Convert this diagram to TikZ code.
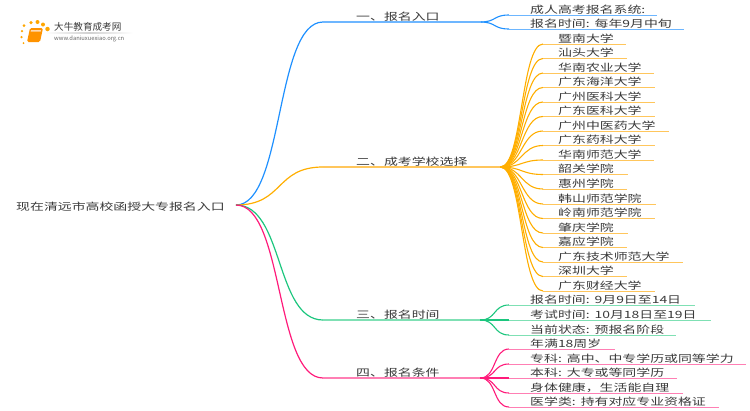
\documentclass[tikz,border=0pt]{standalone}
\usepackage{fontspec}
\setmainfont[FakeStretch=1.39]{Noto Sans CJK SC}
\newfontfamily\logofont{Noto Sans CJK SC}
\definecolor{txtgray}{HTML}{3A3A3A}
\definecolor{bluemain}{HTML}{1E90FF}
\definecolor{bluelite}{HTML}{6DB6FF}
\definecolor{orgmain}{HTML}{FFAE00}
\definecolor{orglite}{HTML}{FFC65C}
\definecolor{grnmain}{HTML}{1CC67E}
\definecolor{grnlite}{HTML}{7FE0B4}
\definecolor{pnkmain}{HTML}{FF1A7A}
\definecolor{pnklite}{HTML}{FF7FB4}
\tikzset{
    branch/.style={anchor=south west,inner sep=0pt,inner ysep=1pt,text depth=0pt,text width=#1,
        execute at begin node={\hspace*{33pt}}},
    leaf/.style={anchor=south west,inner sep=0pt,inner ysep=1.4pt,text depth=0pt,text width=#1,
        execute at begin node={\hspace*{15pt}}},
    leafb/.style={anchor=south west,inner sep=0pt,inner ysep=1.4pt,text depth=0pt,text width=#1,
        execute at begin node={\hspace*{21pt}}},
    logodot/.style={circle,fill=orange!70!yellow,inner sep=0pt,minimum size=#1}
}
\begin{document}
\begin{tikzpicture}[x=1pt,y=-1pt,font=\fontsize{10}{12}\selectfont,text=txtgray]
    \useasboundingbox (0,0) rectangle (750,410);
    % logo
    \node [logodot=3] (d1) at (24,25.5) {};
    \node [logodot=3.5] (d2) at (31,22.5) {};
    \node [logodot=4] (d3) at (37.5,22) {};
    \node [logodot=4] (d4) at (43,24.5) {};
    \node [logodot=4.5] (d5) at (47.5,29) {};
    \node [logodot=2.5] (d6) at (22,31) {};
    \node [logodot=2.5] (d7) at (21.5,37) {};
    \node [logodot=2] (d8) at (23.5,43) {};
    \fill [rounded corners=1.5pt,orange!85!yellow] (30,28) -- (43,28) -- (40,42) -- (27,42) -- cycle;
    \fill [white!70!orange] (31,30) -- (41,30) -- (40.7,31.5) -- (30.7,31.5) -- cycle;
    \fill [left color=white,right color=white,middle color=black!18] (45,32.6) rectangle (133,33.6);
    \node [anchor=west,inner sep=0pt,font=\logofont\fontsize{9.6}{11}\selectfont] (logotitle) at (54,27) {大牛教育成考网};
    \node [anchor=west,inner sep=0pt,font=\logofont\fontsize{5.8}{7}\selectfont,text=black!60] (logourl) at (54,38.5) {www.daniuxuexiao.org.cn};
    % root
    \node [anchor=west,inner sep=0pt] (root) at (16,206.5) {现在清远市高校函授大专报名入口};
    \coordinate (rootend) at (236,205);
    % branches
    \node [branch=157pt] (b1) at (323,22) {一、报名入口};
    \node [branch=177pt] (b2) at (323,167) {二、成考学校选择};
    \node [branch=157pt] (b3) at (323,320) {三、报名时间};
    \node [branch=157pt] (b4) at (323,378) {四、报名条件};
    % leaves of b1
    \node [leafb=148pt] (a1) at (509,15) {成人高考报名系统:};
    \node [leafb=175pt] (a2) at (509,29) {报名时间: 每年9月中旬};
    % leaves of b2
    \node [leaf=83pt] (s1) at (543,44) {暨南大学};
    \node [leaf=84pt] (s2) at (543,58.5) {汕头大学};
    \node [leaf=111pt] (s3) at (543,73) {华南农业大学};
    \node [leaf=112pt] (s4) at (543,87.5) {广东海洋大学};
    \node [leaf=112pt] (s5) at (543,102) {广州医科大学};
    \node [leaf=112pt] (s6) at (543,116.5) {广东医科大学};
    \node [leaf=126pt] (s7) at (543,131) {广州中医药大学};
    \node [leaf=112pt] (s8) at (543,145.5) {广东药科大学};
    \node [leaf=111pt] (s9) at (543,160) {华南师范大学};
    \node [leaf=85pt] (s10) at (543,174.5) {韶关学院};
    \node [leaf=84pt] (s11) at (543,189) {惠州学院};
    \node [leaf=113pt] (s12) at (543,204) {韩山师范学院};
    \node [leaf=112pt] (s13) at (543,218.5) {岭南师范学院};
    \node [leaf=85pt] (s14) at (543,233) {肇庆学院};
    \node [leaf=84pt] (s15) at (543,247.5) {嘉应学院};
    \node [leaf=140pt] (s16) at (543,262) {广东技术师范大学};
    \node [leaf=84pt] (s17) at (543,276.5) {深圳大学};
    \node [leaf=112pt] (s18) at (543,291) {广东财经大学};
    % leaves of b3
    \node [leafb=186pt] (t1) at (509,305) {报名时间: 9月9日至14日};
    \node [leafb=202pt] (t2) at (509,320) {考试时间: 10月18日至19日};
    \node [leafb=167pt] (t3) at (509,335) {当前状态: 预报名阶段};
    % leaves of b4
    \node [leafb=106pt] (c1) at (509,349) {年满18周岁};
    \node [leafb=237pt] (c2) at (509,364) {专科: 高中、中专学历或同等学力};
    \node [leafb=168pt] (c3) at (509,378) {本科: 大专或等同学历};
    \node [leafb=174pt] (c4) at (509,393) {身体健康，生活能自理};
    \node [leafb=210pt] (c5) at (509,407) {医学类: 持有对应专业资格证};
    % connectors
    \begin{scope}[every edge/.style={draw,line width=1.2pt,out=0,in=180,distance=48pt}]
        \path
            (rootend) edge [bluemain] (b1.south west)
            (rootend) edge [orgmain] (b2.south west)
            (rootend) edge [grnmain] (b3.south west)
            (rootend) edge [pnkmain] (b4.south west);
    \end{scope}
    \begin{scope}[every edge/.style={draw,line width=1.2pt}]
        \path
            (b1.south west) edge [bluelite] (b1.south east)
            (b2.south west) edge [orglite] (b2.south east)
            (b3.south west) edge [grnlite] (b3.south east)
            (b4.south west) edge [pnklite] (b4.south east);
    \end{scope}
    \begin{scope}[every edge/.style={draw,line width=1.1pt,out=0,in=180,distance=16pt}]
        \path
            (b1.south east) edge [bluemain] (a1.south west)
            (b1.south east) edge [bluemain] (a2.south west)
            (b3.south east) edge [grnmain] (t1.south west)
            (b3.south east) edge [grnmain] (t2.south west)
            (b3.south east) edge [grnmain] (t3.south west)
            (b4.south east) edge [pnkmain] (c1.south west)
            (b4.south east) edge [pnkmain] (c2.south west)
            (b4.south east) edge [pnkmain] (c3.south west)
            (b4.south east) edge [pnkmain] (c4.south west)
            (b4.south east) edge [pnkmain] (c5.south west);
    \end{scope}
    \begin{scope}[every edge/.style={draw,orgmain,line width=1.1pt,out=0,in=180,distance=22pt}]
        \path
            (b2.south east) edge (s1.south west)
            (b2.south east) edge (s2.south west)
            (b2.south east) edge (s3.south west)
            (b2.south east) edge (s4.south west)
            (b2.south east) edge (s5.south west)
            (b2.south east) edge (s6.south west)
            (b2.south east) edge (s7.south west)
            (b2.south east) edge (s8.south west)
            (b2.south east) edge (s9.south west)
            (b2.south east) edge (s10.south west)
            (b2.south east) edge (s11.south west)
            (b2.south east) edge (s12.south west)
            (b2.south east) edge (s13.south west)
            (b2.south east) edge (s14.south west)
            (b2.south east) edge (s15.south west)
            (b2.south east) edge (s16.south west)
            (b2.south east) edge (s17.south west)
            (b2.south east) edge (s18.south west);
    \end{scope}
    \begin{scope}[every edge/.style={draw,line width=1pt}]
        \path
            (a1.south west) edge [bluelite] (a1.south east)
            (a2.south west) edge [bluelite] (a2.south east)
            (t1.south west) edge [grnlite] (t1.south east)
            (t2.south west) edge [grnlite] (t2.south east)
            (t3.south west) edge [grnlite] (t3.south east)
            (c1.south west) edge [pnklite] (c1.south east)
            (c2.south west) edge [pnklite] (c2.south east)
            (c3.south west) edge [pnklite] (c3.south east)
            (c4.south west) edge [pnklite] (c4.south east)
            (c5.south west) edge [pnklite] (c5.south east)
            (s1.south west) edge [orglite] (s1.south east)
            (s2.south west) edge [orglite] (s2.south east)
            (s3.south west) edge [orglite] (s3.south east)
            (s4.south west) edge [orglite] (s4.south east)
            (s5.south west) edge [orglite] (s5.south east)
            (s6.south west) edge [orglite] (s6.south east)
            (s7.south west) edge [orglite] (s7.south east)
            (s8.south west) edge [orglite] (s8.south east)
            (s9.south west) edge [orglite] (s9.south east)
            (s10.south west) edge [orglite] (s10.south east)
            (s11.south west) edge [orglite] (s11.south east)
            (s12.south west) edge [orglite] (s12.south east)
            (s13.south west) edge [orglite] (s13.south east)
            (s14.south west) edge [orglite] (s14.south east)
            (s15.south west) edge [orglite] (s15.south east)
            (s16.south west) edge [orglite] (s16.south east)
            (s17.south west) edge [orglite] (s17.south east)
            (s18.south west) edge [orglite] (s18.south east);
    \end{scope}
\end{tikzpicture}
\end{document}
